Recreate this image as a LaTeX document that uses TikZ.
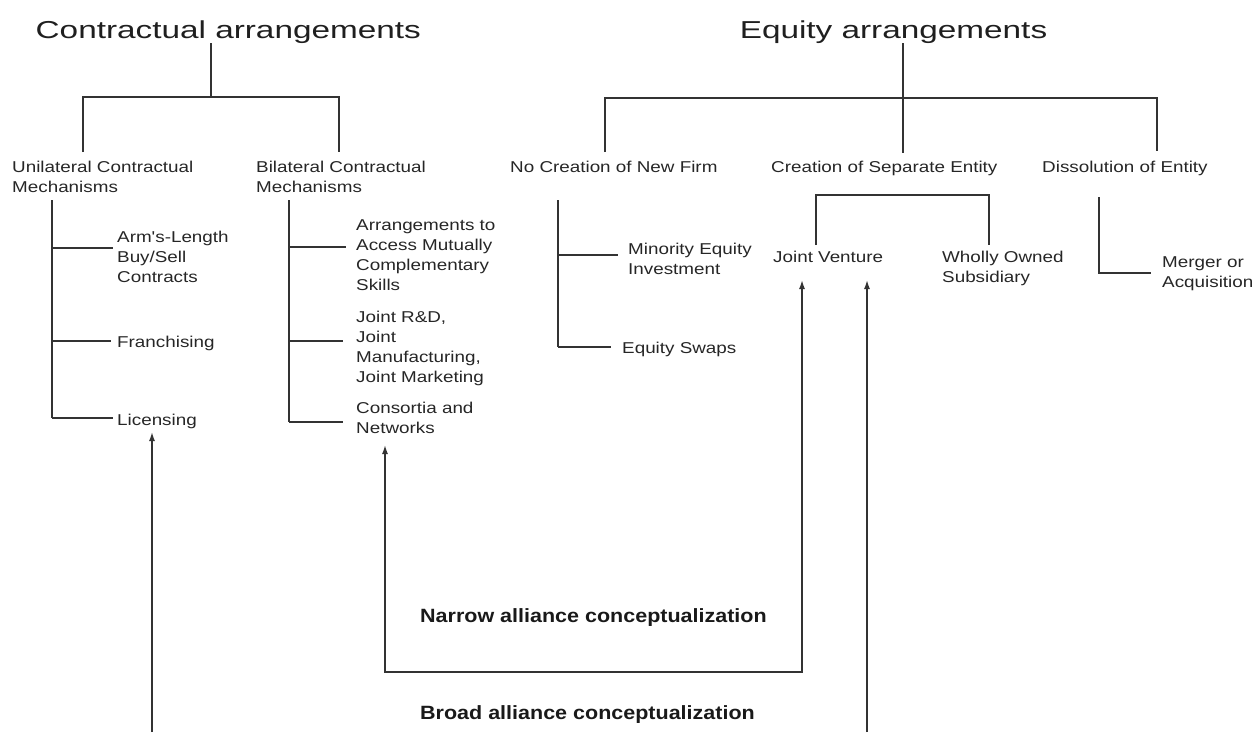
\documentclass[tikz,border=0pt]{standalone}
\usepackage{fontspec}
\setmainfont{Liberation Sans}
\newfontfamily\titlefont[FakeStretch=1.36]{Liberation Sans}
\newfontfamily\smallfont[FakeStretch=1.2]{Liberation Sans}
\newfontfamily\capfont[FakeStretch=1.12]{Liberation Sans}
\usetikzlibrary{arrows.meta}
\tikzset{
  ttl/.style={font=\titlefont\fontsize{24.5}{28}\selectfont, inner sep=0pt, anchor=base, text=black!88},
  lbl/.style={font=\smallfont\fontsize{15.7}{20}\selectfont, inner sep=0pt, align=left, anchor=base west, text=black!85},
  captext/.style={font=\capfont\bfseries\fontsize{19.2}{23}\selectfont, inner sep=0pt, anchor=base west, text=black!90},
  ln/.style={line width=1.5pt, draw=black!80},
  arr/.style={ln, -{Latex[length=9pt,width=6pt]}},
  arrboth/.style={ln, {Latex[length=9pt,width=6pt]}-{Latex[length=9pt,width=6pt]}}
}
\begin{document}
\begin{tikzpicture}[x=1pt,y=-1pt]
\useasboundingbox (0,0) rectangle (1257,732);
% titles
\node[ttl] (ct) at (228.3,38) {Contractual arrangements};
\node[ttl] (et) at (893.5,38) {Equity arrangements};
% level 1 (multi-line nodes are placed by the baseline of their last line)
\node[lbl] (uni) at (12,192) {Unilateral Contractual\\Mechanisms};
\node[lbl] (bil) at (256,192) {Bilateral Contractual\\Mechanisms};
\node[lbl] (nocr) at (510,172) {No Creation of New Firm};
\node[lbl] (cr) at (771,172) {Creation of Separate Entity};
\node[lbl] (dis) at (1042,172) {Dissolution of Entity};
% unilateral leaves
\node[lbl] (arm) at (117,282) {Arm's-Length\\Buy/Sell\\Contracts};
\node[lbl] (fra) at (117,347) {Franchising};
\node[lbl] (lic) at (117,425) {Licensing};
% bilateral leaves
\node[lbl] (acc) at (356,290) {Arrangements to\\Access Mutually\\Complementary\\Skills};
\node[lbl] (jrd) at (356,382) {Joint R\&D,\\Joint\\Manufacturing,\\Joint Marketing};
\node[lbl] (con) at (356,433) {Consortia and\\Networks};
% equity leaves
\node[lbl] (min) at (628,274) {Minority Equity\\Investment};
\node[lbl] (swp) at (622,353) {Equity Swaps};
\node[lbl] (jv) at (773,262) {Joint Venture};
\node[lbl] (wos) at (942,282) {Wholly Owned\\Subsidiary};
\node[lbl] (mer) at (1162,287) {Merger or\\Acquisition};
% captions
\node[captext] (narrow) at (420,622) {Narrow alliance conceptualization};
\node[captext] (broad) at (420,719) {Broad alliance conceptualization};

% ---- contractual tree
\coordinate (cbus) at (211,97);
\coordinate (cL) at (83,97);
\coordinate (cR) at (339,97);
\coordinate (cLd) at (83,152);
\coordinate (cRd) at (339,152);
\draw[ln] (ct.south -| cbus) -- (cbus);
\draw[ln] (cLd) -- (cL) -- (cR) -- (cRd);
% unilateral
\coordinate (uTop) at (52,200);
\coordinate (u1) at (52,248);
\coordinate (u2) at (52,341);
\coordinate (u3) at (52,418);
\draw[ln] (uTop) -- (u3);
\draw[ln] (u1) -- (113,248);
\draw[ln] (u2) -- (111,341);
\draw[ln] (u3) -- (113,418);
% bilateral
\coordinate (bTop) at (289,200);
\coordinate (b1) at (289,247);
\coordinate (b2) at (289,341);
\coordinate (b3) at (289,422);
\draw[ln] (bTop) -- (b3);
\draw[ln] (b1) -- (346,247);
\draw[ln] (b2) -- (343,341);
\draw[ln] (b3) -- (343,422);

% ---- equity tree
\coordinate (ebus) at (903,98);
\coordinate (eL) at (605,98);
\coordinate (eR) at (1157,98);
\draw[ln] (et.south -| ebus) -- (903,153);
\draw[ln] (605,152) -- (eL) -- (eR) -- (1157,151);
% no creation
\coordinate (nTop) at (558,200);
\coordinate (n1) at (558,255);
\coordinate (n2) at (558,347);
\draw[ln] (nTop) -- (n2);
\draw[ln] (n1) -- (618,255);
\draw[ln] (n2) -- (611,347);
% creation bracket
\draw[ln] (816,245) -- (816,195) -- (989,195) -- (989,245);
% dissolution
\draw[ln] (1099,197) -- (1099,273) -- (1151,273);

% ---- alliance arrows
\coordinate (licIn) at (152,432);
\coordinate (conIn) at (385,445);
\coordinate (jvInA) at (802,280);
\coordinate (jvInB) at (867,280);
\coordinate (nL) at (385,672);
\coordinate (nR) at (802,672);
\draw[arr] (152,732) -- (licIn);
\draw[arrboth] (conIn) -- (nL) -- (nR) -- (jvInA);
\draw[arr] (867,732) -- (jvInB);
\end{tikzpicture}
\end{document}
